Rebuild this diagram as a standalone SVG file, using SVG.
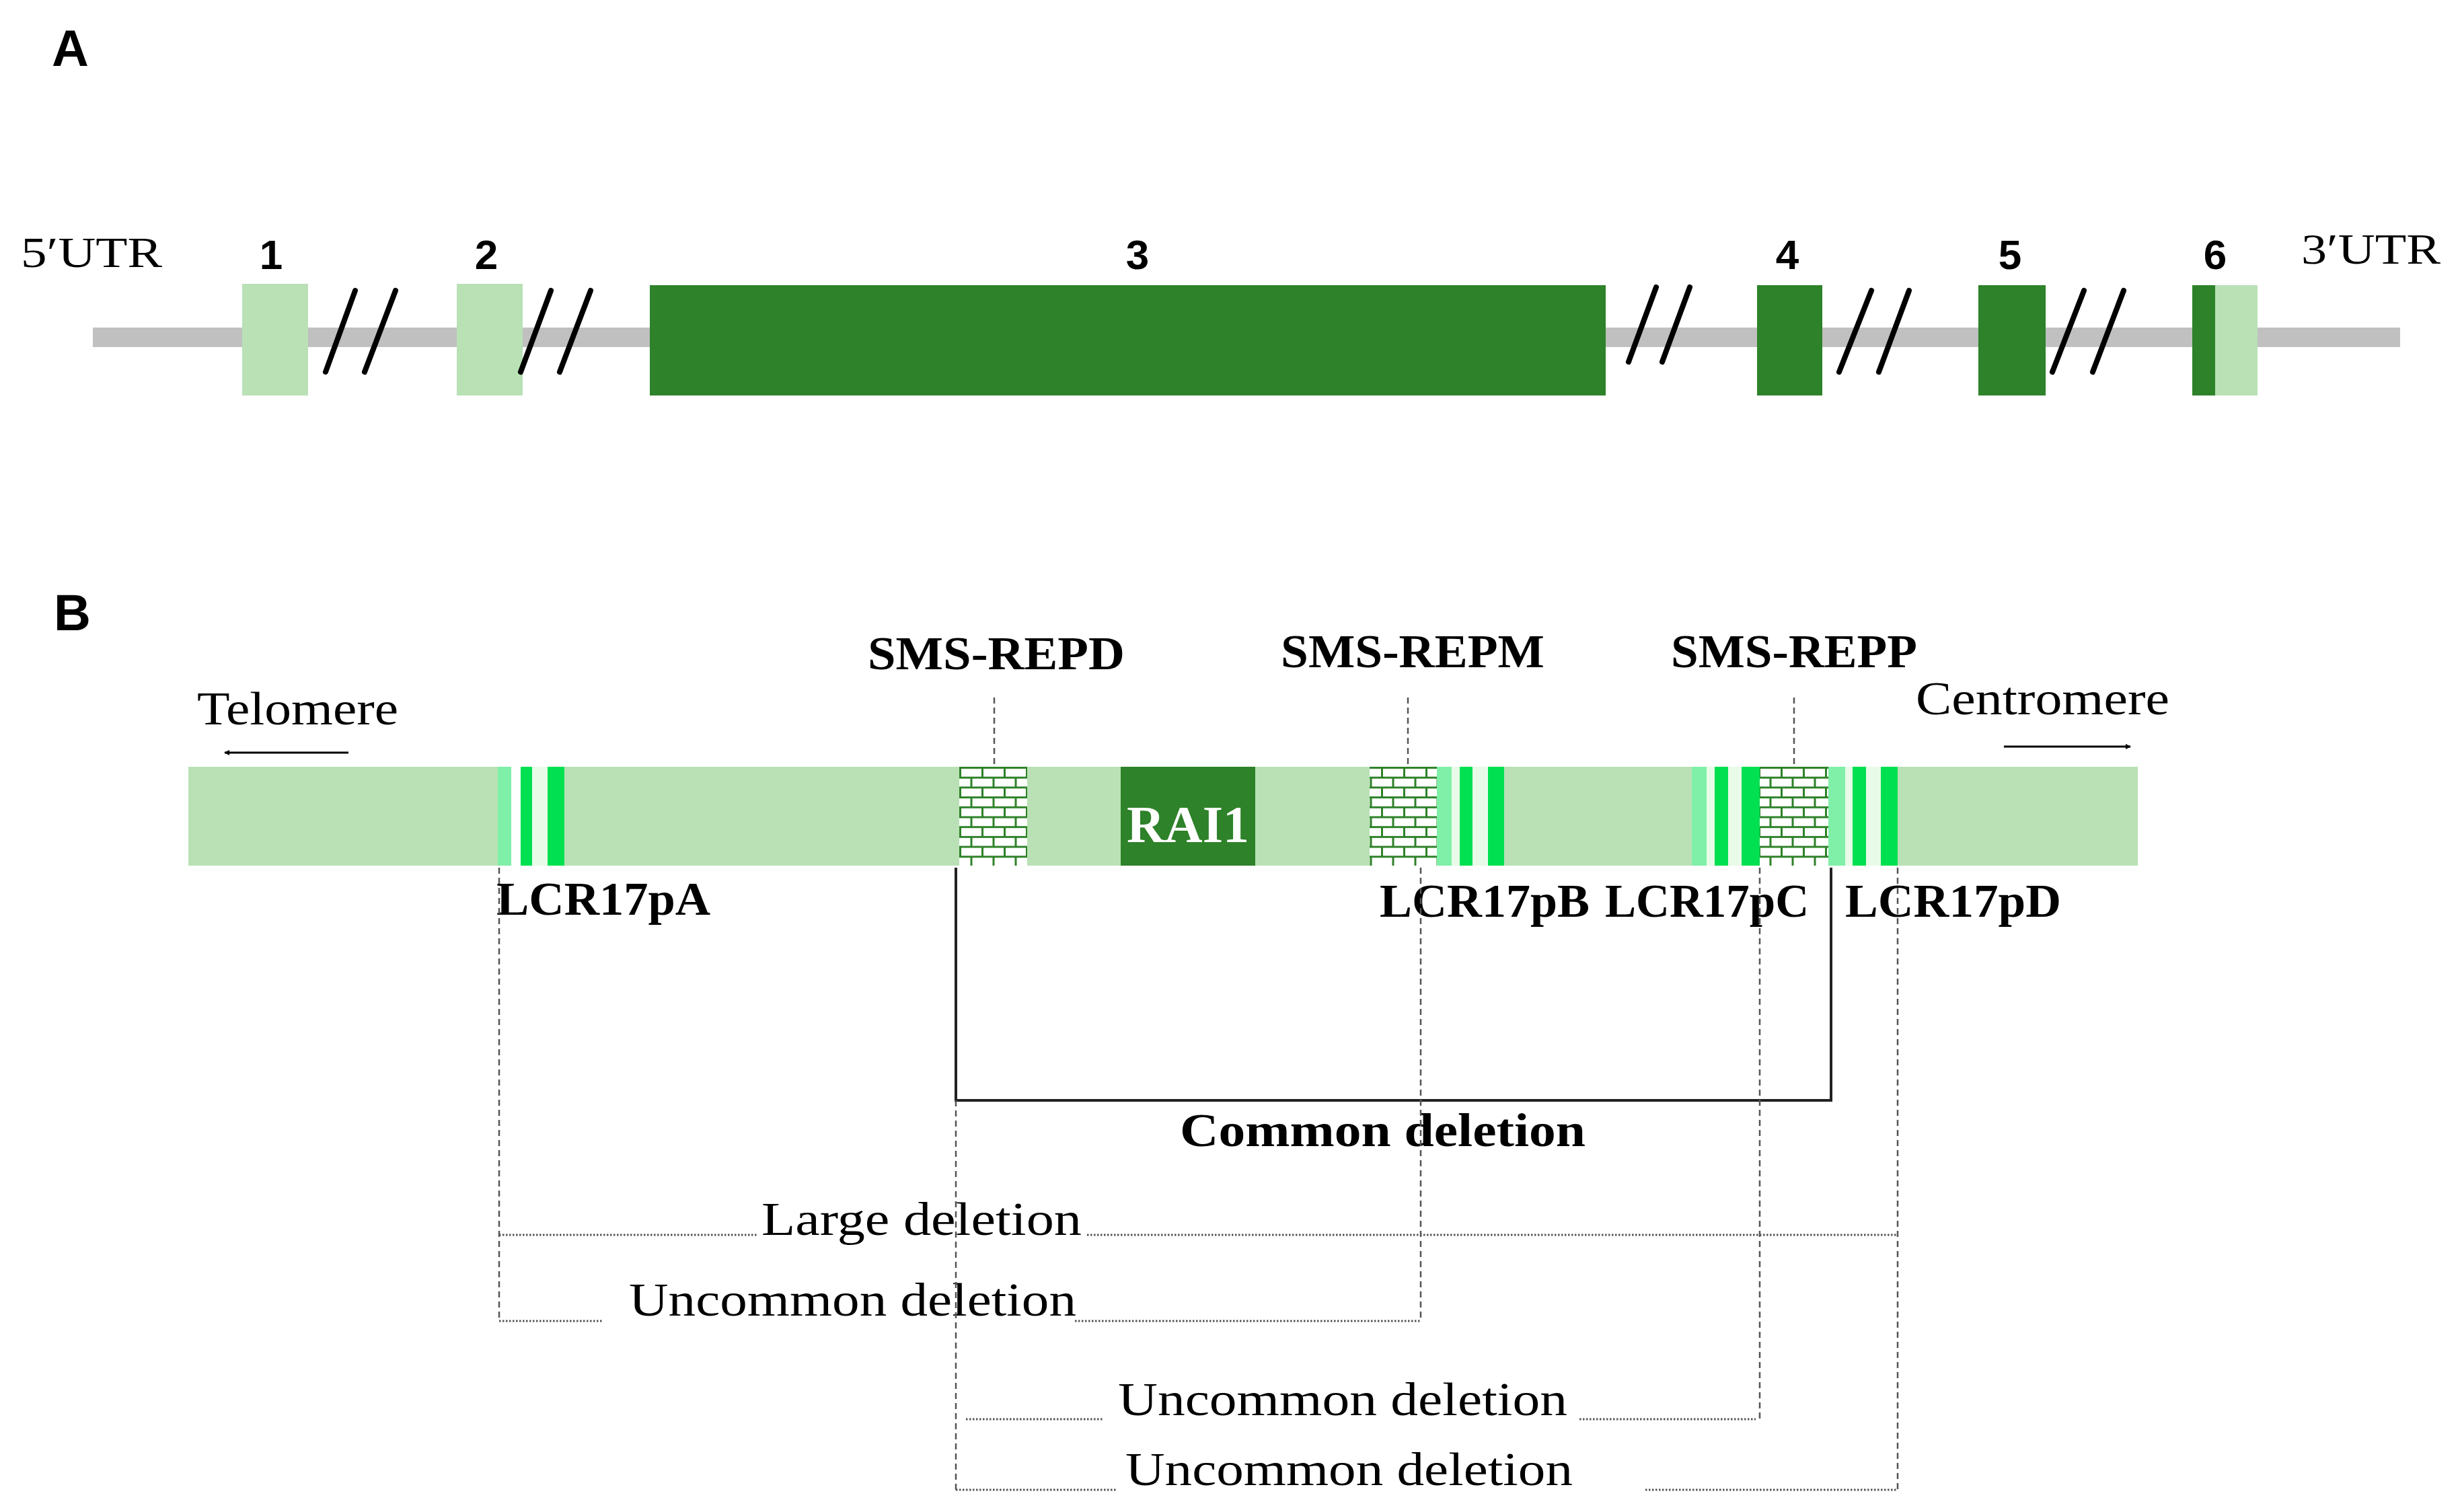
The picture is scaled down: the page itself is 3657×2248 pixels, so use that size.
<svg xmlns="http://www.w3.org/2000/svg" width="3657" height="2248" viewBox="0 0 3657 2248">
<style>
.lt{fill:#b9e1b5}.dk{fill:#2e8229}.mint{fill:#80f0a8}.grn{fill:#00e050}.pale{fill:#e8fbe8}
.brk{stroke:#000;stroke-width:8;stroke-linecap:round}
.sans{font-family:"Liberation Sans",Arial,sans-serif;font-weight:bold}
.ser{font-family:"Liberation Serif","Times New Roman",serif;fill:#000}
.b{font-weight:bold}
.dash{stroke:#555;stroke-width:2.5;stroke-dasharray:9 6;fill:none}
.dot{stroke:#555;stroke-width:3;stroke-dasharray:2.5 2.5;fill:none}
.sol{stroke:#222;stroke-width:4;fill:none}
</style>
<defs>
<pattern id="brick" patternUnits="userSpaceOnUse" x="1426" y="1140" width="33" height="29.4">
<rect width="33" height="29.4" fill="#fff"/>
<path d="M0 1.5H33M0 16.2H33M1.5 0V14.7M18 14.7V29.4" stroke="#2e8229" stroke-width="3"/>
</pattern>
<marker id="ah" viewBox="0 0 10 10" refX="9" refY="5" markerWidth="8" markerHeight="8" orient="auto-start-reverse" markerUnits="userSpaceOnUse">
<path d="M0 0L10 5L0 10Z" fill="#000"/>
</marker>
</defs>
<rect width="3657" height="2248" fill="#fff"/>

<g id="panelA">
<text class="sans" x="77" y="98" font-size="76">A</text>
<rect x="138" y="487" width="3430" height="29" fill="#c0c0c0"/>
<g id="exon1"><rect class="lt" x="360" y="422" width="98" height="166"/><text class="sans" x="403" y="400" font-size="62" text-anchor="middle">1</text></g>
<g id="exon2"><rect class="lt" x="679" y="422" width="98" height="166"/><text class="sans" x="723" y="400" font-size="62" text-anchor="middle">2</text></g>
<g id="exon3"><rect class="dk" x="966" y="424" width="1421" height="164"/><text class="sans" x="1691" y="400" font-size="62" text-anchor="middle">3</text></g>
<g id="exon4"><rect class="dk" x="2612" y="424" width="97" height="164"/><text class="sans" x="2657" y="400" font-size="62" text-anchor="middle">4</text></g>
<g id="exon5"><rect class="dk" x="2941" y="424" width="100" height="164"/><text class="sans" x="2988" y="400" font-size="62" text-anchor="middle">5</text></g>
<g id="exon6"><rect class="dk" x="3259" y="424" width="34" height="164"/><rect class="lt" x="3293" y="424" width="63" height="164"/><text class="sans" x="3293" y="400" font-size="62" text-anchor="middle">6</text></g>
<g id="breaks">
<line class="brk" x1="528" y1="432" x2="484" y2="553"/><line class="brk" x1="588" y1="432" x2="542" y2="553"/>
<line class="brk" x1="819" y1="432" x2="774" y2="553"/><line class="brk" x1="878" y1="432" x2="832" y2="553"/>
<line class="brk" x1="2462" y1="427" x2="2421" y2="538"/><line class="brk" x1="2512" y1="427" x2="2471" y2="538"/>
<line class="brk" x1="2782" y1="432" x2="2734" y2="553"/><line class="brk" x1="2838" y1="432" x2="2793" y2="553"/>
<line class="brk" x1="3098" y1="432" x2="3051" y2="553"/><line class="brk" x1="3157" y1="432" x2="3111" y2="553"/>
</g>
<text class="ser" x="31" y="397" font-size="64" textLength="210" lengthAdjust="spacingAndGlyphs">5′UTR</text>
<text class="ser" x="3421" y="392" font-size="64" textLength="207" lengthAdjust="spacingAndGlyphs">3′UTR</text>
</g>

<g id="panelB">
<text class="sans" x="80" y="937" font-size="76">B</text>
<g id="chromosome">
<rect class="lt" x="280" y="1140" width="2898" height="147"/>
<g id="LCR17pA"><rect class="mint" x="740" y="1140" width="20" height="147"/><rect fill="#fff" x="760" y="1140" width="14" height="147"/><rect class="grn" x="774" y="1140" width="17" height="147"/><rect class="pale" x="791" y="1140" width="23" height="147"/><rect class="grn" x="814" y="1140" width="25" height="147"/></g>
<rect id="REPD" x="1426" y="1140" width="101" height="147" fill="url(#brick)"/>
<g id="RAI1"><rect class="dk" x="1666" y="1140" width="200" height="147"/><text class="ser b" x="1766" y="1252" font-size="78" fill="#fff" style="fill:#fff" text-anchor="middle">RAI1</text></g>
<rect id="REPM" x="2036" y="1140" width="100" height="147" fill="url(#brick)"/>
<g id="LCR17pB"><rect class="mint" x="2136" y="1140" width="22" height="147"/><rect class="pale" x="2158" y="1140" width="12" height="147"/><rect class="grn" x="2170" y="1140" width="19" height="147"/><rect class="pale" x="2189" y="1140" width="23" height="147"/><rect class="grn" x="2212" y="1140" width="24" height="147"/></g>
<g id="LCR17pC"><rect class="mint" x="2515" y="1140" width="22" height="147"/><rect class="pale" x="2537" y="1140" width="12" height="147"/><rect class="grn" x="2549" y="1140" width="20" height="147"/><rect class="pale" x="2569" y="1140" width="20" height="147"/><rect class="grn" x="2589" y="1140" width="27" height="147"/></g>
<rect id="REPP" x="2616" y="1140" width="102" height="147" fill="url(#brick)"/>
<g id="LCR17pD"><rect class="mint" x="2718" y="1140" width="25" height="147"/><rect class="pale" x="2743" y="1140" width="11" height="147"/><rect class="grn" x="2754" y="1140" width="20" height="147"/><rect class="pale" x="2774" y="1140" width="22" height="147"/><rect class="grn" x="2796" y="1140" width="25" height="147"/></g>
</g>
<text class="ser b" x="1290" y="995" font-size="70" textLength="382" lengthAdjust="spacingAndGlyphs">SMS-REPD</text>
<text class="ser b" x="1904" y="992" font-size="70" textLength="392" lengthAdjust="spacingAndGlyphs">SMS-REPM</text>
<text class="ser b" x="2484" y="992" font-size="70" textLength="366" lengthAdjust="spacingAndGlyphs">SMS-REPP</text>
<text class="ser" x="293" y="1077" font-size="70" textLength="299" lengthAdjust="spacingAndGlyphs">Telomere</text>
<text class="ser" x="2848" y="1062" font-size="70" textLength="377" lengthAdjust="spacingAndGlyphs">Centromere</text>
<text class="ser b" x="738" y="1360" font-size="70" textLength="318" lengthAdjust="spacingAndGlyphs">LCR17pA</text>
<text class="ser b" x="2051" y="1363" font-size="70" textLength="312" lengthAdjust="spacingAndGlyphs">LCR17pB</text>
<text class="ser b" x="2386" y="1363" font-size="70" textLength="303" lengthAdjust="spacingAndGlyphs">LCR17pC</text>
<text class="ser b" x="2743" y="1363" font-size="70" textLength="321" lengthAdjust="spacingAndGlyphs">LCR17pD</text>
<text class="ser b" x="1754" y="1704" font-size="70" textLength="603" lengthAdjust="spacingAndGlyphs">Common deletion</text>
<text class="ser" x="1132" y="1836" font-size="70" textLength="476" lengthAdjust="spacingAndGlyphs">Large deletion</text>
<text class="ser" x="935" y="1956" font-size="70" textLength="665" lengthAdjust="spacingAndGlyphs">Uncommon deletion</text>
<text class="ser" x="1662" y="2104" font-size="70" textLength="668" lengthAdjust="spacingAndGlyphs">Uncommon deletion</text>
<text class="ser" x="1673" y="2208" font-size="70" textLength="665" lengthAdjust="spacingAndGlyphs">Uncommon deletion</text>
</g>

<g id="connectors">
<line x1="518" y1="1119" x2="334" y2="1119" stroke="#000" stroke-width="3" marker-end="url(#ah)"/>
<line x1="2979" y1="1110" x2="3167" y2="1110" stroke="#000" stroke-width="3" marker-end="url(#ah)"/>
<path class="dash" d="M1478 1037V1140M2093 1037V1140M2667 1037V1140"/>
<path class="sol" d="M1421 1290V1636H2722V1290"/>
<path class="dash" d="M742 1290V1964M1421 1636V2215M2112 1290V1964M2616 1290V2110M2821 1290V2215"/>
<path class="dot" d="M742 1836H1125M1616 1836H2821M742 1964H896M1598 1964H2112M1436 2110H1640M2348 2110H2610M1421 2215H1661M2446 2215H2821"/>
</g>
</svg>
